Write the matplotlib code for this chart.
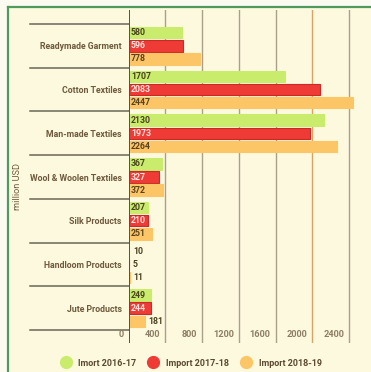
import numpy as np
import matplotlib.pyplot as plt
from matplotlib.lines import Line2D
from matplotlib.patches import Rectangle

plt.rcParams['font.family'] = ['Roboto', 'DejaVu Sans']

# data (million USD)
categories = ['Readymade Garment', 'Cotton Textiles', 'Man-made Textiles',
              'Wool & Woolen Textiles', 'Silk Products', 'Handloom Products',
              'Jute Products']
imp_2016 = [580, 1707, 2130, 367, 207, 10, 249]
imp_2017 = [596, 2083, 1973, 327, 210, 5, 244]
imp_2018 = [778, 2447, 2264, 372, 251, 11, 181]
series_names = ['Imort 2016-17', 'Import 2017-18', 'Import 2018-19']
xticks = [0, 400, 800, 1200, 1600, 2000, 2400]

colors = ['#c9ec6c', '#ee3b36', '#fcc566']
edges = ['#c9ec6c', '#c92a25', '#fcc566']
label_colors = ['#4a4220', '#ffe4e0', '#5a4220']
txt_brown = '#6e5a3c'

W, H = 371, 372
fig = plt.figure(figsize=(W / 100, H / 100), dpi=100)
fig.patch.set_facecolor('#fbfbf2')
fig.add_artist(Rectangle((8 / W, 0), 1, 1 - 7 / H, transform=fig.transFigure,
                         facecolor='#fdf9df', edgecolor='none', zorder=-10))
fig.add_artist(Line2D([8 / W, 8 / W], [0, 1 - 7 / H], transform=fig.transFigure,
                      color='#4f9a5c', lw=1.6))
fig.add_artist(Line2D([8 / W, 1], [1 - 7 / H, 1 - 7 / H], transform=fig.transFigure,
                      color='#4f9a5c', lw=1.6))

x0, x1 = 128.5, 371
top, bot = 10, 343
ax = fig.add_axes([x0 / W, 1 - bot / H, (x1 - x0) / W, (bot - top) / H])
ax.set_facecolor('none')
px = 0.0919  # pixels per unit
ax.set_xlim(0, (x1 - x0) / px)
step = 43.7
ax.set_ylim(6.5 + 13 / step, -0.5 - 14 / step)

y = np.arange(len(categories))
offs = [-0.3, 0, 0.3]
for k, vals in enumerate([imp_2016, imp_2017, imp_2018]):
    ax.barh(y + offs[k], vals, height=0.26, color=colors[k], edgecolor=edges[k],
            lw=0.8, zorder=3)
    for yi, v in zip(y, vals):
        if v < 200:
            ax.annotate(str(v), (v, yi + offs[k]), xytext=(2.5, 0), textcoords='offset points',
                        va='center', ha='left', fontsize=6.3, fontweight='bold',
                        color='#4a4220', zorder=4)
        else:
            ax.annotate(str(v), (0, yi + offs[k]), xytext=(1.8, 0), textcoords='offset points',
                        va='center', ha='left', fontsize=6.3, fontweight='bold',
                        color=label_colors[k], zorder=4)

# gridlines
for t in xticks[1:]:
    ax.axvline(t, color='#d8a366' if t == 2000 else '#a9a089', lw=1.0, zorder=1)
ax.axvline(0, color='#555048', lw=1.4, zorder=5)

# category separators to the left of the axis
for b in np.arange(-0.5, 7, 1):
    ax.axhline(b, xmin=(30 - x0) / (x1 - x0), xmax=0, color='#6a6656', lw=1.1,
               clip_on=False)

# tick labels drawn inside the axes bottom
for t in xticks:
    ax.annotate(str(t), (t, 0), xycoords=('data', 'axes fraction'), xytext=(-3.5, 3),
                textcoords='offset points', ha='right', va='bottom', fontsize=6.6,
                fontweight='bold', color='#8c7e64')

ax.set_yticks(y)
ax.set_yticklabels(categories, fontsize=6.3, fontweight='bold', color=txt_brown)
ax.tick_params(axis='y', length=0, pad=5)
ax.set_xticks([])
for s in ax.spines.values():
    s.set_visible(False)

fig.text(18 / W, 1 - 186 / H, 'million USD', rotation=90, ha='center', va='center',
         fontsize=6.6, color=txt_brown)

handles = [Line2D([], [], marker='o', ls='none', markersize=8.5, markerfacecolor=c,
                  markeredgecolor=c) for c in colors]
fig.legend(handles, series_names, loc='center', bbox_to_anchor=(0.51, 1 - 363 / H),
           ncol=3, frameon=False, handletextpad=0.4, columnspacing=0.9,
           prop={'size': 6.5, 'weight': 'bold'}, labelcolor='#5a4a30')

fig.savefig('out.png', dpi=100, facecolor=fig.get_facecolor())
